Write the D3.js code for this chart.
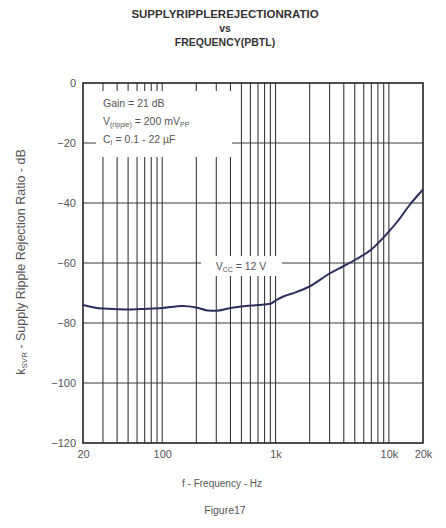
<!DOCTYPE html>
<html>
<head>
<meta charset="utf-8">
<script src="https://cdn.jsdelivr.net/npm/d3@7/dist/d3.min.js"></script>
<style>
  html, body { margin: 0; padding: 0; background: #fff; }
  svg { display: block; font-family: "Liberation Sans", Arial, sans-serif; }
</style>
</head>
<body>
<svg id="chart" width="446" height="528"></svg>
<script>
// Supply ripple rejection ratio vs frequency, PBTL mode
const freqHz = [20, 25, 30, 40, 50, 70, 100, 150, 200, 250, 300, 400, 500, 700, 900,
                1000, 1200, 1500, 2000, 3000, 4000, 5000, 7000, 10000, 12000, 15000, 20000];
const ksvrDb = [-74, -74.8, -75.2, -75.4, -75.5, -75.3, -75, -74.3, -74.8, -75.8, -75.9, -75, -74.5, -74, -73.6,
                -72.5, -71, -69.8, -67.8, -63.5, -61, -59, -55.5, -49.5, -46, -41, -35.5];

const yTicks = [0, -20, -40, -60, -80, -100, -120];
const xTickValues = [20, 100, 1000, 10000, 20000];
const xTickLabels = ["20", "100", "1k", "10k", "20k"];
const titleLines = ["SUPPLYRIPPLEREJECTIONRATIO", "vs", "FREQUENCY(PBTL)"];

const svg = d3.select("#chart");
const m = { left: 83, right: 423, top: 83, bottom: 443 };

const x = d3.scaleLog().domain([20, 20000]).range([m.left, m.right]);
const y = d3.scaleLinear().domain([-120, 0]).range([m.bottom, m.top]);

// vertical grid: 1..9 per decade
const vGrid = [];
for (let dec = 10; dec <= 10000; dec *= 10) {
  for (let k = 1; k <= 9; k++) {
    const f = dec * k;
    if (f > 20 && f < 20000) vGrid.push(f);
  }
}

const grid = svg.append("g").attr("stroke", "#3a3a3a").attr("stroke-width", 1.1);
grid.selectAll("line.v").data(vGrid).join("line")
  .attr("x1", d => x(d)).attr("x2", d => x(d))
  .attr("y1", m.top).attr("y2", m.bottom);
grid.selectAll("line.h").data(yTicks.slice(1, -1)).join("line")
  .attr("x1", m.left).attr("x2", m.right)
  .attr("y1", d => y(d)).attr("y2", d => y(d));

// white panels behind the in-plot annotations
svg.append("rect").attr("x", 96).attr("y", 91).attr("width", 136).attr("height", 66).attr("fill", "#fff");
svg.append("rect").attr("x", 201).attr("y", 256).attr("width", 81).attr("height", 20).attr("fill", "#fff");

// frame
svg.append("rect")
  .attr("x", m.left).attr("y", m.top)
  .attr("width", m.right - m.left).attr("height", m.bottom - m.top)
  .attr("fill", "none").attr("stroke", "#222").attr("stroke-width", 1.6);

// curve
svg.append("path")
  .datum(freqHz.map((f, i) => [f, ksvrDb[i]]))
  .attr("fill", "none")
  .attr("stroke", "#2c2f5e")
  .attr("stroke-width", 2)
  .attr("d", d3.line().x(d => x(d[0])).y(d => y(d[1])).curve(d3.curveMonotoneX));

// axes
const yAxis = d3.axisLeft(y).tickValues(yTicks).tickSize(0).tickPadding(7).tickFormat(d3.format("d"));
const yG = svg.append("g").attr("transform", `translate(${m.left},0)`).call(yAxis);
yG.select(".domain").remove();
yG.selectAll("text").attr("font-size", 11).attr("fill", "#555").attr("font-family", "Liberation Sans, Arial, sans-serif");

const xAxis = d3.axisBottom(x).tickValues(xTickValues).tickSize(0).tickPadding(7)
  .tickFormat((d, i) => xTickLabels[i]);
const xG = svg.append("g").attr("transform", `translate(0,${m.bottom})`).call(xAxis);
xG.select(".domain").remove();
xG.selectAll("text").attr("font-size", 11).attr("fill", "#555").attr("font-family", "Liberation Sans, Arial, sans-serif");

// titles
const titleY = [18, 32, 46];
svg.selectAll("text.title").data(titleLines).join("text")
  .attr("class", "title")
  .attr("x", 225).attr("y", (d, i) => titleY[i])
  .attr("text-anchor", "middle")
  .attr("font-size", (d, i) => i === 0 ? 11.5 : 10.5)
  .attr("font-weight", "bold").attr("fill", "#333")
  .text(d => d);

// axis titles
svg.append("text")
  .attr("x", 222).attr("y", 487).attr("text-anchor", "middle")
  .attr("font-size", 10).attr("fill", "#555")
  .text("f - Frequency - Hz");

svg.append("text")
  .attr("x", 225).attr("y", 514).attr("text-anchor", "middle")
  .attr("font-size", 10.5).attr("fill", "#555")
  .text("Figure17");

const yl = svg.append("text")
  .attr("transform", "translate(25,262) rotate(-90)")
  .attr("text-anchor", "middle")
  .attr("font-size", 12.5).attr("fill", "#555");
yl.append("tspan").text("k");
yl.append("tspan").attr("font-size", 8).attr("dy", 2).text("SVR");
yl.append("tspan").attr("dy", -2).text(" - Supply Ripple Rejection Ratio - dB");

// annotations
const ann = svg.append("g").attr("font-size", 10.5).attr("fill", "#555");
ann.append("text").attr("x", 103).attr("y", 107).text("Gain = 21 dB");
const t2 = ann.append("text").attr("x", 103).attr("y", 125);
t2.append("tspan").text("V");
t2.append("tspan").attr("font-size", 7).attr("dy", 2).text("(ripple)");
t2.append("tspan").attr("dy", -2).text(" = 200 mV");
t2.append("tspan").attr("font-size", 7).attr("dy", 2).text("PP");
const t3 = ann.append("text").attr("x", 103).attr("y", 143);
t3.append("tspan").text("C");
t3.append("tspan").attr("font-size", 7).attr("dy", 2).text("I");
t3.append("tspan").attr("dy", -2).text(" = 0.1 - 22 \u00b5F");

const t4 = ann.append("text").attr("x", 241).attr("y", 270).attr("text-anchor", "middle");
t4.append("tspan").text("V");
t4.append("tspan").attr("font-size", 7).attr("dy", 2).text("CC");
t4.append("tspan").attr("dy", -2).text(" = 12 V");
</script>
</body>
</html>
